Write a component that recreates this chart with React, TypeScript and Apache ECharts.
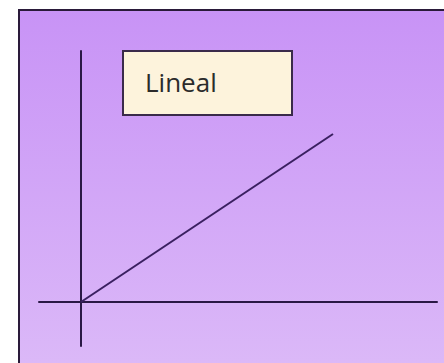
import React, { useEffect, useRef } from "react";
import * as echarts from "echarts";

// Data
const lineX: number[] = [0, 6];
const lineY: number[] = [0, 4];
const labelText = "Lineal";

export default function App() {
  const ref = useRef<HTMLDivElement>(null);
  useEffect(() => {
    document.body.style.margin = "0";
    const chart = echarts.init(ref.current!, undefined, { renderer: "svg" });
    const option: echarts.EChartsOption = {
      animation: false,
      backgroundColor: "#ffffff",
      grid: { left: 39, right: 7, top: 51, bottom: 17, containLabel: false },
      xAxis: {
        type: "value",
        min: -1,
        max: 8.476,
        axisLine: { show: true, onZero: true, lineStyle: { color: "#2a1845", width: 2 } },
        axisTick: { show: false },
        axisLabel: { show: false },
        splitLine: { show: false },
      },
      yAxis: {
        type: "value",
        min: -1.048,
        max: 5.976,
        axisLine: { show: true, onZero: true, lineStyle: { color: "#2a1845", width: 2 } },
        axisTick: { show: false },
        axisLabel: { show: false },
        splitLine: { show: false },
      },
      graphic: [
        {
          type: "rect",
          z: -100,
          silent: true,
          shape: { x: 19, y: 10, width: 440, height: 370 },
          style: {
            fill: new echarts.graphic.LinearGradient(0, 0, 0, 1, [
              { offset: 0, color: "#c893f6" },
              { offset: 1, color: "#dcbaf8" },
            ]),
            stroke: "#2a1a3a",
            lineWidth: 2,
          },
        },
        {
          type: "rect",
          z: 100,
          shape: { x: 123, y: 51, width: 169, height: 64 },
          style: { fill: "#fdf3dc", stroke: "#3a2a4a", lineWidth: 2 },
        },
        {
          type: "text",
          z: 101,
          x: 145,
          y: 82,
          style: {
            text: labelText,
            fill: "#2b2b2b",
            font: "26px 'Open Sans', sans-serif",
            verticalAlign: "middle",
            align: "left",
          },
        },
      ],
      series: [
        {
          type: "line",
          data: lineX.map((x, i) => [x, lineY[i]]),
          showSymbol: false,
          lineStyle: { color: "#3a2060", width: 2 },
        },
      ],
    };
    chart.setOption(option);
    return () => chart.dispose();
  }, []);
  return <div ref={ref} style={{ width: 444, height: 363 }} />;
}
